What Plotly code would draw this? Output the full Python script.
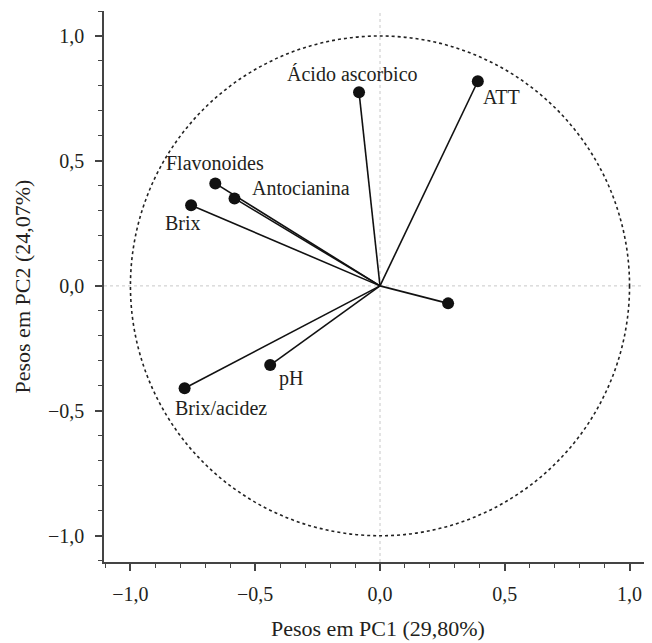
import plotly.graph_objects as go

labels = ["Ácido ascorbico", "ATT", "Flavonoides", "Antocianina", "Brix", "Brix/acidez", "pH", ""]
pc1 = [-0.084, 0.392, -0.66, -0.583, -0.757, -0.783, -0.44, 0.273]
pc2 = [0.775, 0.819, 0.41, 0.35, 0.323, -0.41, -0.317, -0.07]
tick_vals = [-1.0, -0.5, 0.0, 0.5, 1.0]

# label offsets (pixels, +dy = downward) and anchors
label_pos = {
    "Ácido ascorbico": (-7, -18, "center"),
    "ATT": (3, 16, "left"),
    "Flavonoides": (0, -20, "center"),
    "Antocianina": (15, -10, "left"),
    "Brix": (-28, 18, "left"),
    "Brix/acidez": (-12, 20, "left"),
    "pH": (7, 13, "left"),
}

FONT = "Liberation Serif"
TXT = "#231f20"
fig = go.Figure()

for x, y in zip(pc1, pc2):
    fig.add_trace(go.Scatter(x=[0, x], y=[0, y], mode="lines",
                             line=dict(color="#111", width=1.6),
                             hoverinfo="skip", showlegend=False))
fig.add_trace(go.Scatter(x=pc1, y=pc2, mode="markers",
                         marker=dict(color="#111", size=12),
                         showlegend=False))

for lab, x, y in zip(labels, pc1, pc2):
    if not lab:
        continue
    dx, dy, anc = label_pos[lab]
    fig.add_annotation(x=x, y=y, text=lab, showarrow=False,
                       xshift=dx, yshift=-dy, xanchor=anc, yanchor="middle",
                       font=dict(family=FONT, size=20, color=TXT))

fig.add_shape(type="circle", x0=-1, y0=-1, x1=1, y1=1,
              line=dict(color="#222", width=1.6, dash="dot"))
fig.add_shape(type="line", xref="paper", x0=0, x1=1, y0=0, y1=0,
              line=dict(color="#c8c8c8", width=1, dash="dot"), layer="below")
fig.add_shape(type="line", yref="paper", y0=0, y1=1, x0=0, x1=0,
              line=dict(color="#c8c8c8", width=1, dash="dot"), layer="below")

# axis titles
fig.add_annotation(xref="paper", yref="paper", x=0.5, y=0, yshift=-66,
                   text="Pesos em PC1 (29,80%)", showarrow=False,
                   xanchor="center", yanchor="middle",
                   font=dict(family=FONT, size=22, color=TXT))
fig.add_annotation(xref="paper", yref="paper", x=0, y=0.5, xshift=-82,
                   text="Pesos em PC2 (24,07%)", showarrow=False, textangle=-90,
                   xanchor="center", yanchor="middle",
                   font=dict(family=FONT, size=22, color=TXT))

axis_common = dict(
    showgrid=False, zeroline=False, showline=True, linecolor="#444", linewidth=1.5,
    ticks="outside", ticklen=7, tickwidth=1.5, tickcolor="#444",
    tickvals=tick_vals, tickformat=".1f", automargin=False,
    tickfont=dict(family=FONT, size=20, color=TXT),
    minor=dict(dtick=0.1, ticks="outside", ticklen=4, tickwidth=1.2, tickcolor="#444"),
)

fig.update_layout(
    width=644, height=635,
    margin=dict(l=96, r=0, t=3, b=81),
    plot_bgcolor="white", paper_bgcolor="white",
    separators=",.",
    xaxis=dict(range=[-1.106, 1.09], ticklabelstandoff=6, **axis_common),
    yaxis=dict(range=[-1.105, 1.1], ticklabelstandoff=7, **axis_common),
)

fig.write_html("out.html")
